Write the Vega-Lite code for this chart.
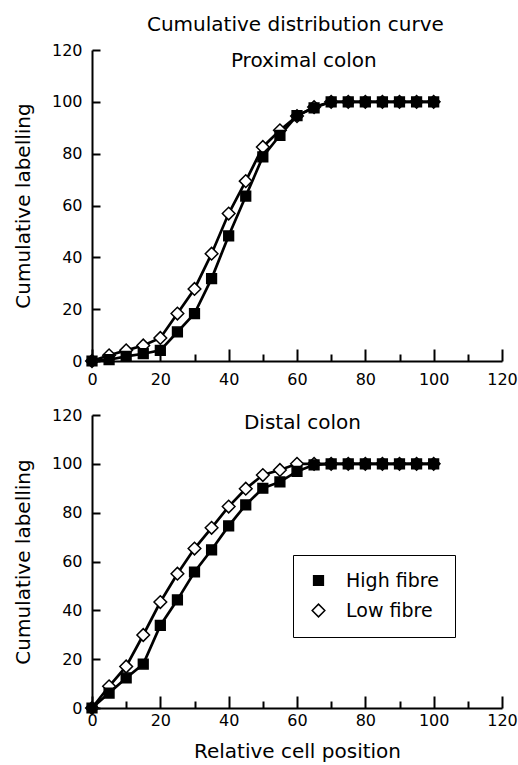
{
  "$schema": "https://vega.github.io/schema/vega-lite/v6.json",
  "background": "white",
  "padding": {"left": 13, "top": 15, "right": 5, "bottom": 5},
  "title": {"text": "Cumulative distribution curve", "anchor": "middle", "font": "DejaVu Sans", "fontSize": 20, "fontWeight": "normal", "color": "black", "offset": 7, "dx": 30},
  "datasets": {
    "pts": [
      {"panel": "Proximal colon", "series": "High fibre", "x": 0, "y": 0},
      {"panel": "Proximal colon", "series": "High fibre", "x": 5, "y": 0.5},
      {"panel": "Proximal colon", "series": "High fibre", "x": 10, "y": 1.8},
      {"panel": "Proximal colon", "series": "High fibre", "x": 15, "y": 2.8},
      {"panel": "Proximal colon", "series": "High fibre", "x": 20, "y": 4.1},
      {"panel": "Proximal colon", "series": "High fibre", "x": 25, "y": 11.2},
      {"panel": "Proximal colon", "series": "High fibre", "x": 30, "y": 18.3},
      {"panel": "Proximal colon", "series": "High fibre", "x": 35, "y": 31.8},
      {"panel": "Proximal colon", "series": "High fibre", "x": 40, "y": 48.3},
      {"panel": "Proximal colon", "series": "High fibre", "x": 45, "y": 63.6},
      {"panel": "Proximal colon", "series": "High fibre", "x": 50, "y": 78.8},
      {"panel": "Proximal colon", "series": "High fibre", "x": 55, "y": 87.1},
      {"panel": "Proximal colon", "series": "High fibre", "x": 60, "y": 94.7},
      {"panel": "Proximal colon", "series": "High fibre", "x": 65, "y": 97.7},
      {"panel": "Proximal colon", "series": "High fibre", "x": 70, "y": 100},
      {"panel": "Proximal colon", "series": "High fibre", "x": 75, "y": 100},
      {"panel": "Proximal colon", "series": "High fibre", "x": 80, "y": 100},
      {"panel": "Proximal colon", "series": "High fibre", "x": 85, "y": 100},
      {"panel": "Proximal colon", "series": "High fibre", "x": 90, "y": 100},
      {"panel": "Proximal colon", "series": "High fibre", "x": 95, "y": 100},
      {"panel": "Proximal colon", "series": "High fibre", "x": 100, "y": 100},
      {"panel": "Proximal colon", "series": "Low fibre", "x": 0, "y": 0},
      {"panel": "Proximal colon", "series": "Low fibre", "x": 5, "y": 2.2},
      {"panel": "Proximal colon", "series": "Low fibre", "x": 10, "y": 4.1},
      {"panel": "Proximal colon", "series": "Low fibre", "x": 15, "y": 6.0},
      {"panel": "Proximal colon", "series": "Low fibre", "x": 20, "y": 8.9},
      {"panel": "Proximal colon", "series": "Low fibre", "x": 25, "y": 18.3},
      {"panel": "Proximal colon", "series": "Low fibre", "x": 30, "y": 27.8},
      {"panel": "Proximal colon", "series": "Low fibre", "x": 35, "y": 41.4},
      {"panel": "Proximal colon", "series": "Low fibre", "x": 40, "y": 56.9},
      {"panel": "Proximal colon", "series": "Low fibre", "x": 45, "y": 69.4},
      {"panel": "Proximal colon", "series": "Low fibre", "x": 50, "y": 82.6},
      {"panel": "Proximal colon", "series": "Low fibre", "x": 55, "y": 89.0},
      {"panel": "Proximal colon", "series": "Low fibre", "x": 60, "y": 94.5},
      {"panel": "Proximal colon", "series": "Low fibre", "x": 65, "y": 98},
      {"panel": "Proximal colon", "series": "Low fibre", "x": 70, "y": 100},
      {"panel": "Proximal colon", "series": "Low fibre", "x": 75, "y": 100},
      {"panel": "Proximal colon", "series": "Low fibre", "x": 80, "y": 100},
      {"panel": "Proximal colon", "series": "Low fibre", "x": 85, "y": 100},
      {"panel": "Proximal colon", "series": "Low fibre", "x": 90, "y": 100},
      {"panel": "Proximal colon", "series": "Low fibre", "x": 95, "y": 100},
      {"panel": "Proximal colon", "series": "Low fibre", "x": 100, "y": 100},
      {"panel": "Distal colon", "series": "High fibre", "x": 0, "y": 0},
      {"panel": "Distal colon", "series": "High fibre", "x": 5, "y": 6.1},
      {"panel": "Distal colon", "series": "High fibre", "x": 10, "y": 12.3},
      {"panel": "Distal colon", "series": "High fibre", "x": 15, "y": 18.0},
      {"panel": "Distal colon", "series": "High fibre", "x": 20, "y": 33.8},
      {"panel": "Distal colon", "series": "High fibre", "x": 25, "y": 44.3},
      {"panel": "Distal colon", "series": "High fibre", "x": 30, "y": 55.7},
      {"panel": "Distal colon", "series": "High fibre", "x": 35, "y": 64.8},
      {"panel": "Distal colon", "series": "High fibre", "x": 40, "y": 74.6},
      {"panel": "Distal colon", "series": "High fibre", "x": 45, "y": 83.2},
      {"panel": "Distal colon", "series": "High fibre", "x": 50, "y": 90.0},
      {"panel": "Distal colon", "series": "High fibre", "x": 55, "y": 92.6},
      {"panel": "Distal colon", "series": "High fibre", "x": 60, "y": 96.9},
      {"panel": "Distal colon", "series": "High fibre", "x": 65, "y": 99.6},
      {"panel": "Distal colon", "series": "High fibre", "x": 70, "y": 100},
      {"panel": "Distal colon", "series": "High fibre", "x": 75, "y": 100},
      {"panel": "Distal colon", "series": "High fibre", "x": 80, "y": 100},
      {"panel": "Distal colon", "series": "High fibre", "x": 85, "y": 100},
      {"panel": "Distal colon", "series": "High fibre", "x": 90, "y": 100},
      {"panel": "Distal colon", "series": "High fibre", "x": 95, "y": 100},
      {"panel": "Distal colon", "series": "High fibre", "x": 100, "y": 100},
      {"panel": "Distal colon", "series": "Low fibre", "x": 0, "y": 0},
      {"panel": "Distal colon", "series": "Low fibre", "x": 5, "y": 8.9},
      {"panel": "Distal colon", "series": "Low fibre", "x": 10, "y": 17.0},
      {"panel": "Distal colon", "series": "Low fibre", "x": 15, "y": 29.9},
      {"panel": "Distal colon", "series": "Low fibre", "x": 20, "y": 43.4},
      {"panel": "Distal colon", "series": "Low fibre", "x": 25, "y": 55.0},
      {"panel": "Distal colon", "series": "Low fibre", "x": 30, "y": 65.3},
      {"panel": "Distal colon", "series": "Low fibre", "x": 35, "y": 73.8},
      {"panel": "Distal colon", "series": "Low fibre", "x": 40, "y": 82.5},
      {"panel": "Distal colon", "series": "Low fibre", "x": 45, "y": 89.8},
      {"panel": "Distal colon", "series": "Low fibre", "x": 50, "y": 95.4},
      {"panel": "Distal colon", "series": "Low fibre", "x": 55, "y": 97.5},
      {"panel": "Distal colon", "series": "Low fibre", "x": 60, "y": 100},
      {"panel": "Distal colon", "series": "Low fibre", "x": 65, "y": 100},
      {"panel": "Distal colon", "series": "Low fibre", "x": 70, "y": 100},
      {"panel": "Distal colon", "series": "Low fibre", "x": 75, "y": 100},
      {"panel": "Distal colon", "series": "Low fibre", "x": 80, "y": 100},
      {"panel": "Distal colon", "series": "Low fibre", "x": 85, "y": 100},
      {"panel": "Distal colon", "series": "Low fibre", "x": 90, "y": 100},
      {"panel": "Distal colon", "series": "Low fibre", "x": 95, "y": 100},
      {"panel": "Distal colon", "series": "Low fibre", "x": 100, "y": 100}
    ],
    "labels": [
      {"panel": "Proximal colon", "x": 62, "y": 113.5},
      {"panel": "Distal colon", "x": 61.6, "y": 114.2}
    ]
  },
  "vconcat": [
    {
      "width": 410,
      "height": 311,
      "layer": [
        {
          "data": {"name": "pts"},
          "transform": [{"filter": "datum.panel == 'Proximal colon'"}],
          "mark": {"type": "line", "color": "black", "strokeWidth": 2.7},
          "encoding": {
            "x": {"field": "x", "type": "quantitative", "scale": {"domain": [0, 120], "nice": false}, "axis": {"title": null}},
            "y": {"field": "y", "type": "quantitative", "scale": {"domain": [0, 120], "nice": false}, "axis": {"title": "Cumulative labelling"}},
            "detail": {"field": "series"}
          }
        },
        {
          "data": {"name": "pts"},
          "transform": [{"filter": "datum.panel == 'Proximal colon'"}],
          "mark": {"type": "point", "filled": true, "stroke": "black", "strokeWidth": 1.5, "opacity": 1},
          "encoding": {
            "x": {"field": "x", "type": "quantitative"},
            "y": {"field": "y", "type": "quantitative"},
            "shape": {"field": "series", "type": "nominal", "scale": {"domain": ["High fibre", "Low fibre"], "range": ["square", "diamond"]}, "legend": null},
            "color": {"field": "series", "type": "nominal", "scale": {"domain": ["High fibre", "Low fibre"], "range": ["black", "white"]}, "legend": null},
            "size": {"field": "series", "type": "nominal", "scale": {"domain": ["High fibre", "Low fibre"], "range": [95, 160]}, "legend": null},
            "order": {"field": "series", "sort": "descending"}
          }
        },
        {
          "data": {"name": "labels"},
          "transform": [{"filter": "datum.panel == 'Proximal colon'"}],
          "mark": {"type": "text", "font": "DejaVu Sans", "fontSize": 20, "color": "black", "baseline": "alphabetic", "align": "center"},
          "encoding": {
            "x": {"field": "x", "type": "quantitative"},
            "y": {"field": "y", "type": "quantitative"},
            "text": {"field": "panel"}
          }
        }
      ]
    },
    {
      "width": 410,
      "height": 293,
      "layer": [
        {
          "data": {"name": "pts"},
          "transform": [{"filter": "datum.panel == 'Distal colon'"}],
          "mark": {"type": "line", "color": "black", "strokeWidth": 2.7},
          "encoding": {
            "x": {"field": "x", "type": "quantitative", "scale": {"domain": [0, 120], "nice": false}, "axis": {"title": "Relative cell position", "labelPadding": 16}},
            "y": {"field": "y", "type": "quantitative", "scale": {"domain": [0, 120], "nice": false}, "axis": {"title": "Cumulative labelling"}},
            "detail": {"field": "series"}
          }
        },
        {
          "data": {"name": "pts"},
          "transform": [{"filter": "datum.panel == 'Distal colon'"}],
          "mark": {"type": "point", "filled": true, "stroke": "black", "strokeWidth": 1.5, "opacity": 1},
          "encoding": {
            "x": {"field": "x", "type": "quantitative"},
            "y": {"field": "y", "type": "quantitative"},
            "shape": {"field": "series", "type": "nominal", "scale": {"domain": ["High fibre", "Low fibre"], "range": ["square", "diamond"]}, "legend": {"title": null}},
            "color": {"field": "series", "type": "nominal", "scale": {"domain": ["High fibre", "Low fibre"], "range": ["black", "white"]}, "legend": {"title": null}},
            "size": {"field": "series", "type": "nominal", "scale": {"domain": ["High fibre", "Low fibre"], "range": [95, 160]}, "legend": null},
            "order": {"field": "series", "sort": "descending"}
          }
        },
        {
          "data": {"name": "labels"},
          "transform": [{"filter": "datum.panel == 'Distal colon'"}],
          "mark": {"type": "text", "font": "DejaVu Sans", "fontSize": 20, "color": "black", "baseline": "alphabetic", "align": "center"},
          "encoding": {
            "x": {"field": "x", "type": "quantitative"},
            "y": {"field": "y", "type": "quantitative"},
            "text": {"field": "panel"}
          }
        }
      ]
    }
  ],
  "spacing": 54,
  "bounds": "flush",
  "resolve": {"legend": {"shape": "independent", "color": "independent", "size": "independent"}},
  "config": {
    "view": {"stroke": null},
    "axis": {
      "grid": false,
      "domainColor": "black",
      "domainWidth": 2,
      "tickColor": "black",
      "tickWidth": 2,
      "tickSize": -8,
      "labelFont": "DejaVu Sans",
      "labelFontSize": 16,
      "labelColor": "black",
      "labelPadding": 18,
      "titleFont": "DejaVu Sans",
      "titleFontSize": 20,
      "titleFontWeight": "normal",
      "titleColor": "black",
      "values": [0, 10, 20, 30, 40, 50, 60, 70, 80, 90, 100, 110, 120],
      "labelExpr": "datum.value % 20 == 0 ? datum.label : ''",
      "labelFlush": false,
      "labelOverlap": false
    },
    "axisY": {"titlePadding": 18},
    "axisX": {"titlePadding": 8, "tickSize": {"condition": {"test": "datum.value % 20 == 0", "value": -12}, "value": -7}, "labelPadding": 22},
    "legend": {
      "orient": "none",
      "legendX": 201,
      "legendY": 140,
      "strokeColor": "black",
      "fillColor": "white",
      "padding": 16,
      "labelFont": "DejaVu Sans",
      "labelFontSize": 19,
      "labelColor": "black",
      "labelOffset": 18,
      "rowPadding": 10,
      "symbolSize": 110,
      "symbolStrokeWidth": 1.5
    }
  }
}
